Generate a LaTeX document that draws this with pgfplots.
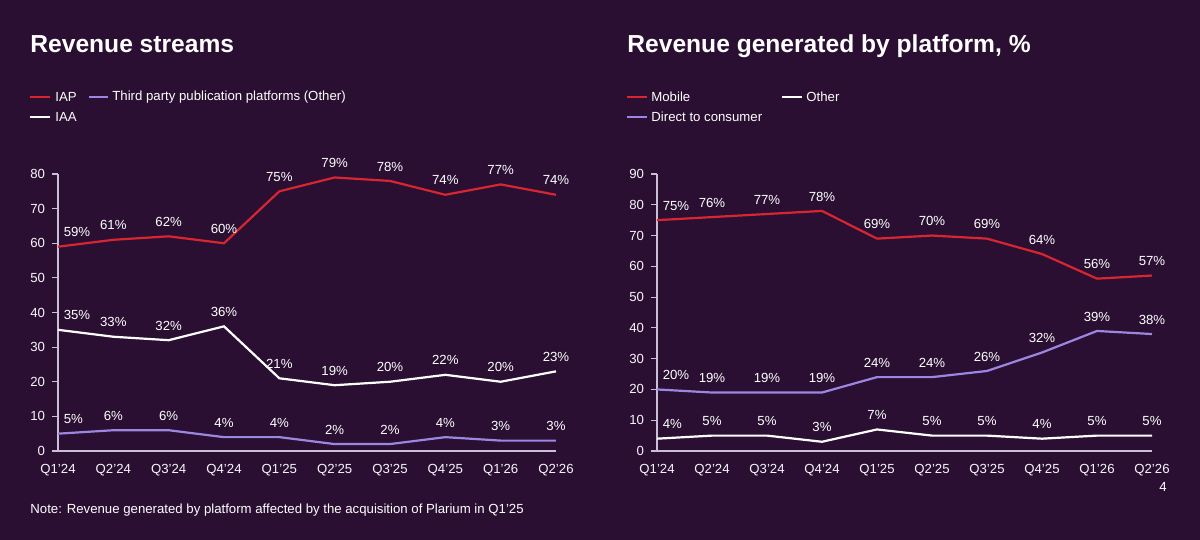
\documentclass[border=0pt]{standalone}
\usepackage{pgfplots}
\pgfplotsset{compat=1.18}
\usepackage{fontspec}
\setmainfont{Liberation Sans}
\definecolor{bg}{HTML}{2A0F33}
\definecolor{cred}{HTML}{D7262F}
\definecolor{cpur}{HTML}{9B86E0}
\definecolor{axc}{HTML}{C9BFD6}
\newcommand{\sm}{\fontsize{6.6}{8}\selectfont}
\pgfplotsset{
  myax/.style={scale only axis, clip=false,
    axis lines*=left, axis line style={axc, line width=0.6pt},
    xmin=0, xmax=9, ymin=0, xtick={0,...,9},
    xticklabels={Q1'24,Q2'24,Q3'24,Q4'24,Q1'25,Q2'25,Q3'25,Q4'25,Q1'26,Q2'26},
    major x tick style={draw=none},
    major y tick style={axc, line width=0.6pt}, tick align=outside, major tick length=3pt,
    ticklabel style={font=\sm, text=white!85!axc},
    /pgf/number format/assume math mode=true,
    every axis plot/.append style={line width=1.1pt, mark=none},
    nodes near coords={\pgfmathprintnumber{\pgfplotspointmeta}\%},
    every node near coord/.append style={font=\sm, text=white, yshift=1pt},
    coordinate style/.condition={x==0}{anchor=south west, xshift=-1pt},
  }
}
\begin{document}
\begin{tikzpicture}[x=0.5pt,y=0.5pt]
\fill[bg] (0,0) rectangle (1200,540);
\tikzset{ttl/.style={anchor=base west, inner sep=0pt, text=white, font=\fontsize{12.3}{14}\selectfont\bfseries}}
\node[ttl] at (30,487) {Revenue streams};
\node[ttl] at (627,487) {Revenue generated by platform, \%};
\tikzset{lg/.style={anchor=west,inner sep=0pt,text=white,font=\sm}}
% legends left
\draw[cred, line width=1.1pt] (30,443) -- (50,443); \node[lg] at (55,443) {IAP};
\draw[cpur, line width=1.1pt] (89,443) -- (108,443); \node[lg] at (112,443) {Third party publication platforms (Other)};
\draw[white, line width=1.1pt] (30,423) -- (50,423); \node[lg] at (55,423) {IAA};
% legends right
\draw[cred, line width=1.1pt] (627,443) -- (647,443); \node[lg] at (651,443) {Mobile};
\draw[white, line width=1.1pt] (782,443) -- (802,443); \node[lg] at (806,443) {Other};
\draw[cpur, line width=1.1pt] (627,423) -- (647,423); \node[lg] at (651,423) {Direct to consumer};
\node[lg] at (30,30) {Note: Revenue generated by platform affected by the acquisition of Plarium in Q1'25};
\node[text=white,font=\sm] at (1163,53) {4};
\begin{axis}[myax, at={(29pt,44.5pt)}, anchor=south west, width=249pt, height=138.5pt,
  ymax=80, ytick={0,10,...,80}]
\addplot[cred] coordinates {(0,59)(1,61)(2,62)(3,60)(4,75)(5,79)(6,78)(7,74)(8,77)(9,74)};
\addplot[white] coordinates {(0,35)(1,33)(2,32)(3,36)(4,21)(5,19)(6,20)(7,22)(8,20)(9,23)};
\addplot[cpur] coordinates {(0,5)(1,6)(2,6)(3,4)(4,4)(5,2)(6,2)(7,4)(8,3)(9,3)};
\end{axis}
\begin{axis}[myax, at={(328.5pt,44.5pt)}, anchor=south west, width=247.5pt, height=138.5pt,
  ymax=90, ytick={0,10,...,90}]
\addplot[cred] coordinates {(0,75)(1,76)(2,77)(3,78)(4,69)(5,70)(6,69)(7,64)(8,56)(9,57)};
\addplot[cpur] coordinates {(0,20)(1,19)(2,19)(3,19)(4,24)(5,24)(6,26)(7,32)(8,39)(9,38)};
\addplot[white] coordinates {(0,4)(1,5)(2,5)(3,3)(4,7)(5,5)(6,5)(7,4)(8,5)(9,5)};
\end{axis}
\end{tikzpicture}
\end{document}
